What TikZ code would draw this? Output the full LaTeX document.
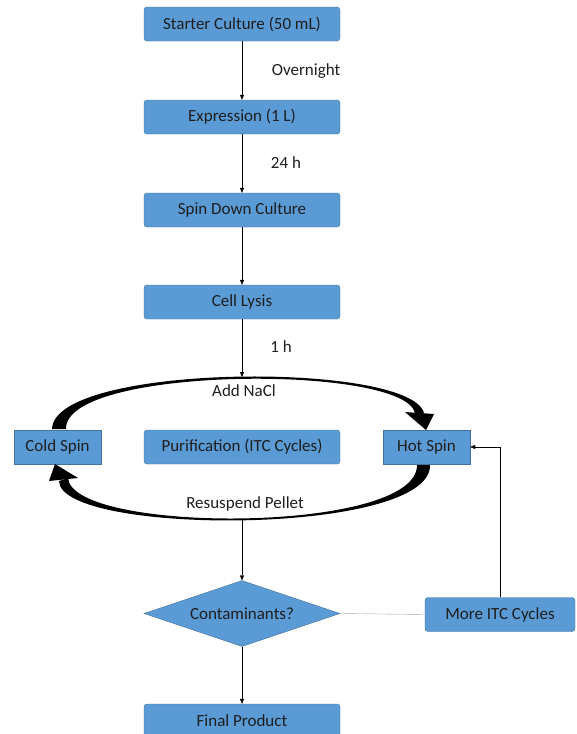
\documentclass[tikz,border=0pt]{standalone}
\usepackage{fontspec}
\setmainfont{Carlito}
\usetikzlibrary{arrows.meta,shapes.geometric}
\definecolor{boxblue}{HTML}{5B9BD5}
\definecolor{boxedge}{HTML}{41719C}
\definecolor{textdark}{HTML}{1E1E1E}
\tikzset{
  stepbox/.style={draw=boxedge, fill=boxblue, rounded corners=3pt, inner sep=0pt,
    minimum width=196pt, minimum height=34pt, text=textdark, font=\fontsize{17}{20}\selectfont},
  spinbox/.style={stepbox, rounded corners=0pt, minimum width=87pt},
  lbl/.style={font=\fontsize{17}{20}\selectfont, text=textdark, inner sep=0pt},
  flow/.style={-{Triangle[length=5pt,width=4pt]}, thin}
}
\begin{document}
\begin{tikzpicture}[x=1pt,y=-1pt]
        \useasboundingbox (0,0) rectangle (576,734);

        % Caselle del processo
        \node[stepbox] (starter) at (242,24) {Starter Culture (50 mL)};
        \node[stepbox] (expr) at (242,117) {Expression (1 L)};
        \node[stepbox] (spin) at (242,210) {Spin Down Culture};
        \node[stepbox] (lysis) at (242,302) {Cell Lysis};
        \node[stepbox] (purif) at (242,447) {Purification (ITC Cycles)};
        \node[spinbox] (cold) at (57.5,447) {Cold Spin};
        \node[spinbox] (hot) at (426.5,447) {Hot Spin};
        \node[diamond, aspect=2.95, draw=boxedge, fill=boxblue, inner sep=0pt, minimum width=196pt,
          minimum height=66pt, text=textdark, font=\fontsize{17}{20}\selectfont] (cont) at (242,613.5) {Contaminants?};
        \node[stepbox, minimum width=150pt] (more) at (500,614.5) {More ITC Cycles};
        \node[stepbox] (final) at (242,721) {Final Product};

        % Punti del ciclo
        \coordinate (ctop) at (242,377);
        \coordinate (cbot) at (242,519);

        % Frecce
        \draw[flow] (starter) -- (expr);
        \draw[flow] (expr) -- (spin);
        \draw[flow] (spin) -- (lysis);
        \draw[flow] (lysis) -- (ctop);
        \draw[flow] (cbot) -- (cont);
        \draw[flow] (cont) -- (final);
        \draw[gray!70] (cont.east) -- (more.west);
        \draw[flow] (more.north) |- (hot.east);

        % Etichette
        \node[lbl] (tover) at (306,71) {Overnight};
        \node[lbl] (t24) at (286,163) {24 h};
        \node[lbl] (t1) at (281,347) {1 h};
        \node[lbl] (tnacl) at (244,391) {Add NaCl};
        \node[lbl] (tpellet) at (245,504) {Resuspend Pellet};

        % Arco superiore (cold -> hot)
        \fill (52,429) .. controls (54,363) and (410,361) .. (424,413)
          -- (415,413) .. controls (404,364) and (64,366) .. (66,429) -- cycle;
        \fill (405,412) -- (434,414) -- (426,430) -- cycle;
        % Arco inferiore (hot -> cold)
        \fill (430,465) .. controls (432,536) and (60,536) .. (59,481)
          -- (68,478) .. controls (72,534) and (418,534) .. (417,465) -- cycle;
        \fill (49,481) -- (78,478) -- (55,464) -- cycle;
    \end{tikzpicture}
\end{document}
